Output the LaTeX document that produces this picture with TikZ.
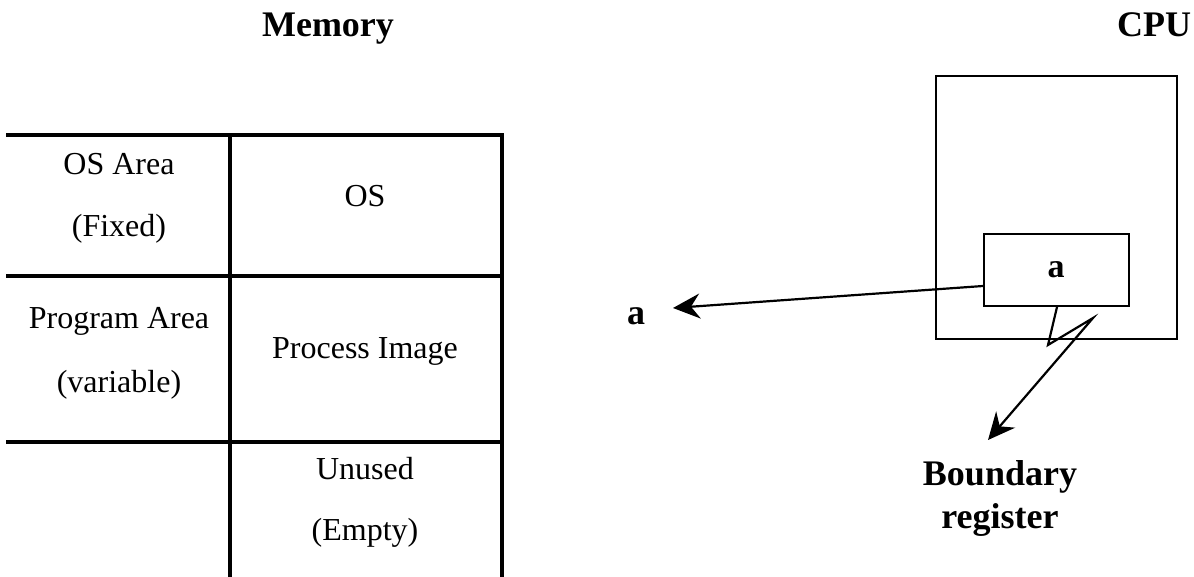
\documentclass[tikz,border=0pt]{standalone}
\usepackage{fontspec}
\setmainfont{Liberation Serif}
\usetikzlibrary{arrows.meta}

\tikzset{
  body/.style={anchor=base, inner sep=0pt, font=\fontsize{32}{38}\selectfont},
  head/.style={anchor=base, inner sep=0pt, font=\fontsize{36}{42}\selectfont\bfseries},
  grid/.style={line width=3.3pt, line cap=rect},
  frame/.style={draw, line width=2pt, inner sep=0pt},
  link/.style={line width=2.2pt, -{Stealth[length=27pt, width=25pt, inset=9pt]}},
}

\begin{document}
\begin{tikzpicture}[x=1pt, y=-1pt]
  \useasboundingbox[fill=white] (0,0) rectangle (1194,577);

  % headings
  \node[head] (memory) at (328,37) {Memory};
  \node[head] (cpu) at (1154,37) {CPU};

  % memory layout table
  \draw[grid] (8,135) -- (502,135);
  \draw[grid] (8,276) -- (502,276);
  \draw[grid] (8,442) -- (502,442);
  \draw[grid] (230,135) -- (230,580);
  \draw[grid] (502,135) -- (502,580);

  \node[body] (osarea) at (119,175) {OS Area};
  \node[body] (osfixed) at (119,237) {(Fixed)};
  \node[body] (os) at (365,207) {OS};
  \node[body] (progarea) at (119,328) {Program Area};
  \node[body] (progvar) at (119,392) {(variable)};
  \node[body] (image) at (365,359) {Process Image};
  \node[body] (unused) at (365,479) {Unused};
  \node[body] (empty) at (365,540) {(Empty)};

  % CPU with its boundary register
  \node[frame, minimum width=241pt, minimum height=263pt] (cpubox) at (1056.5,207.5) {};
  \node[frame, minimum width=145pt, minimum height=72pt] (reg) at (1056.5,270) {};
  \node[head, font=\fontsize{34}{40}\selectfont\bfseries] (rega) at (1056,278) {a};

  % address sent to memory
  \node[head] (aout) at (636,325) {a};
  \coordinate (atip) at (673,308);
  \draw[link] ([yshift=-16pt]reg.west) -- (atip);

  % callout for the boundary register
  \node[head] (bound1) at (1000,485) {Boundary};
  \node[head] (bound2) at (1000,528) {register};
  \coordinate (btip) at (988,440);
  \draw[link, line join=miter] (reg.south -| 1057,0) -- (1048,345) -- (1093,318) -- (btip);
\end{tikzpicture}
\end{document}
